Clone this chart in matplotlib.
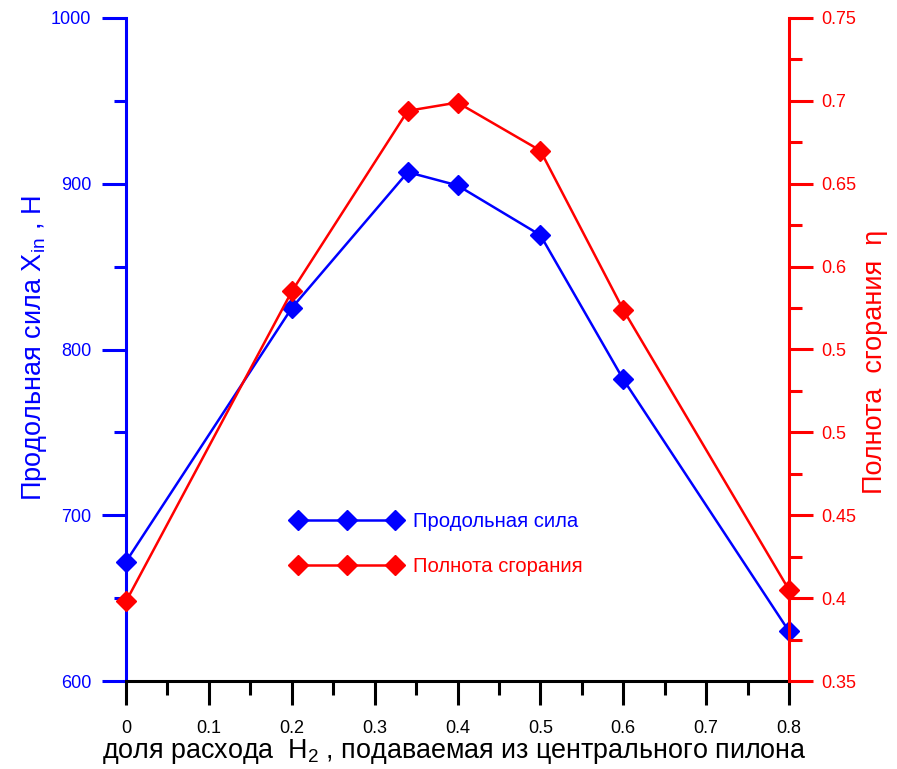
import matplotlib
matplotlib.use("Agg")
import matplotlib.pyplot as plt
from matplotlib.ticker import MultipleLocator, FixedLocator, FixedFormatter
from matplotlib.lines import Line2D

plt.rcParams['font.family'] = ['Liberation Sans', 'DejaVu Sans']
plt.rcParams['mathtext.fontset'] = 'custom'
plt.rcParams['mathtext.rm'] = 'Liberation Sans'
plt.rcParams['mathtext.it'] = 'Liberation Sans:italic'

# data
x_share = [0.0, 0.2, 0.34, 0.4, 0.5, 0.6, 0.8]
force = [672, 825, 907, 899, 869, 782, 630]
eta = [0.398, 0.585, 0.694, 0.699, 0.670, 0.574, 0.405]
x_ticks = [0, 0.1, 0.2, 0.3, 0.4, 0.5, 0.6, 0.7, 0.8]
x_ticklabels = ['0', '0.1', '0.2', '0.3', '0.4', '0.5', '0.6', '0.7', '0.8']
left_ticks = [600, 700, 800, 900, 1000]
right_ticks = [0.35, 0.40, 0.45, 0.50, 0.55, 0.60, 0.65, 0.70, 0.75]
right_ticklabels = ['0.35', '0.4', '0.45', '0.5', '0.5', '0.6', '0.65', '0.7', '0.75']
labels = ['Продольная сила', 'Полнота сгорания']

BLUE = '#0000ff'
RED = '#ff0000'

fig = plt.figure(figsize=(8.97, 7.69), dpi=100)
ax = fig.add_axes([126/897, 1-681/769, (789-126)/897, (681-18)/769])
ax2 = ax.twinx()

ax.plot(x_share, force, color=BLUE, lw=1.8, marker='D', ms=10, zorder=3, clip_on=False)
ax2.plot(x_share, eta, color=RED, lw=1.8, marker='D', ms=10, zorder=3, clip_on=False)

ax.set_xlim(0, 0.8)
ax.set_ylim(600, 1000)
ax2.set_ylim(0.35, 0.75)

for a in (ax, ax2):
    a.spines['top'].set_visible(False)
    a.set_facecolor('none')
ax.spines['right'].set_visible(False)
ax2.spines['left'].set_visible(False)
ax2.spines['bottom'].set_visible(False)
ax.spines['left'].set_color(BLUE)
ax.spines['left'].set_linewidth(2.2)
ax.spines['bottom'].set_color('black')
ax.spines['bottom'].set_linewidth(2.2)
ax2.spines['right'].set_color(RED)
ax2.spines['right'].set_linewidth(2.2)

ax.xaxis.set_major_locator(FixedLocator(x_ticks))
ax.xaxis.set_major_formatter(FixedFormatter(x_ticklabels))
ax.xaxis.set_minor_locator(MultipleLocator(0.05))
ax.tick_params(axis='x', which='major', direction='out', length=17, width=2.2, color='black',
               labelsize=13, pad=11)
ax.tick_params(axis='x', which='minor', direction='out', length=10, width=2.2, color='black')

ax.yaxis.set_major_locator(FixedLocator(left_ticks))
ax.yaxis.set_minor_locator(MultipleLocator(50))
ax.tick_params(axis='y', which='major', direction='out', length=17, width=2.2, color=BLUE,
               labelcolor=BLUE, labelsize=13, pad=8)
ax.tick_params(axis='y', which='minor', direction='out', length=9, width=2.2, color=BLUE)

ax2.yaxis.set_major_locator(FixedLocator(right_ticks))
ax2.yaxis.set_major_formatter(FixedFormatter(right_ticklabels))
ax2.yaxis.set_minor_locator(MultipleLocator(0.025))
ax2.tick_params(axis='y', which='major', direction='out', length=17, width=2.2, color=RED,
                labelcolor=RED, labelsize=13, pad=6)
ax2.tick_params(axis='y', which='minor', direction='out', length=9, width=2.2, color=RED)

ax.set_xlabel('доля расхода  H$_2$ , подаваемая из центрального пилона', fontsize=19.4,
              color='black')
ax.xaxis.set_label_coords(0.495, -0.085)
ax.set_ylabel('Продольная сила X$_{\\mathrm{in}}$ , Н', fontsize=19.5, color=BLUE)
ax.yaxis.set_label_coords(-0.116, 0.502)
ax2.set_ylabel('Полнота  сгорания  η', fontsize=19.5, color=RED)
ax2.yaxis.set_label_coords(1.110, 0.481)

handles = [Line2D([], [], color=BLUE, lw=1.8, marker='D', ms=10),
           Line2D([], [], color=RED, lw=1.8, marker='D', ms=10)]
leg = ax.legend(handles, labels, loc='upper left', bbox_to_anchor=(0.25, 0.255),
                numpoints=3, handlelength=5.4, frameon=False, fontsize=14.6,
                labelcolor=[BLUE, RED], labelspacing=1.27, handletextpad=0.6,
                borderaxespad=0, borderpad=0)

fig.savefig('out.png', dpi=100)
